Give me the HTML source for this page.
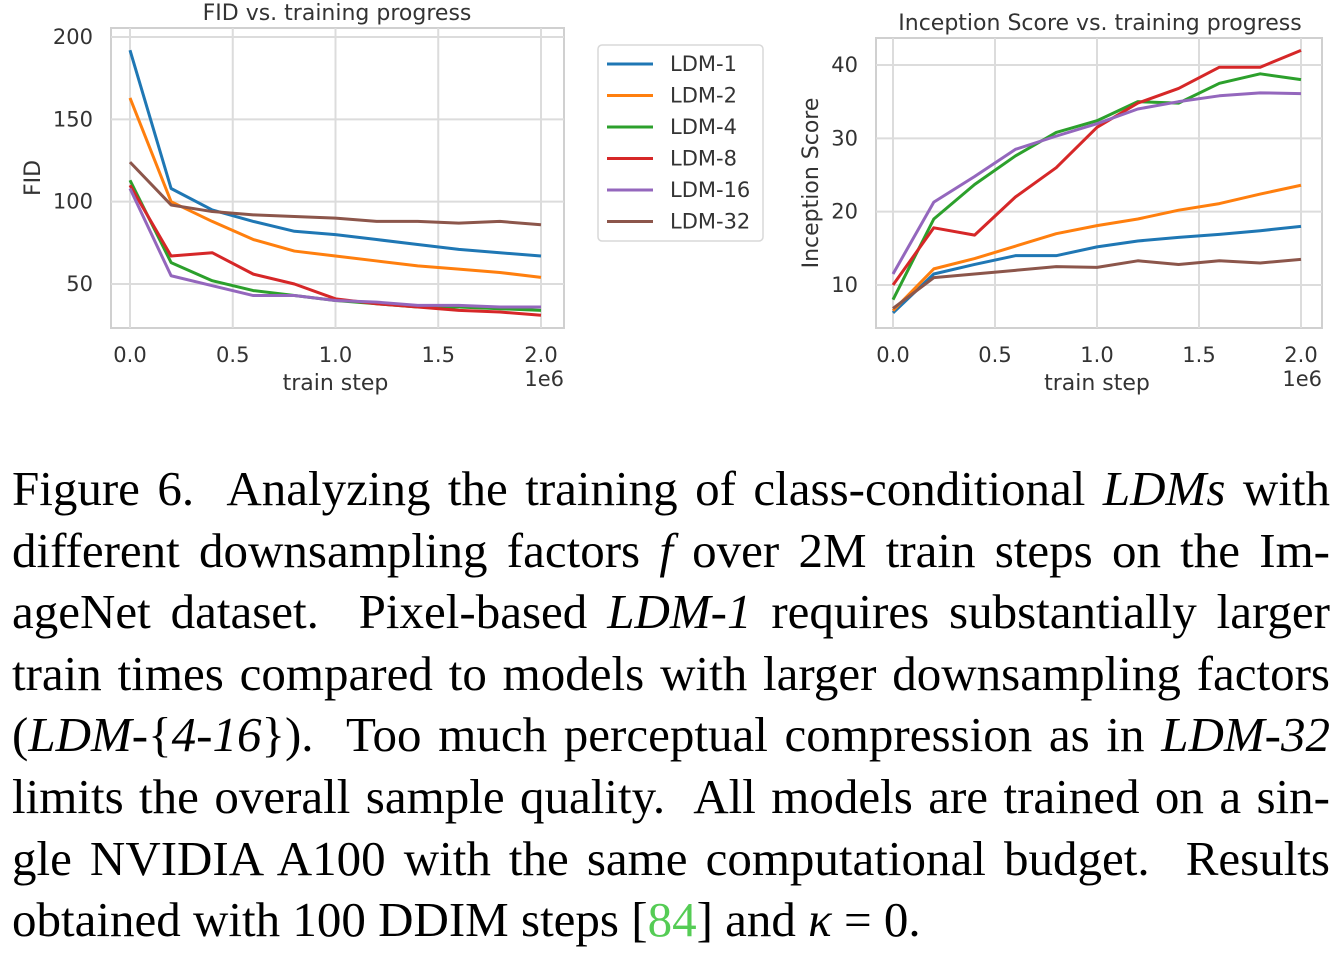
<!DOCTYPE html>
<html><head><meta charset="utf-8"><style>
body{margin:0;background:#fff;width:1338px;height:954px;overflow:hidden;position:relative}
svg text{font-family:"DejaVu Sans",sans-serif;fill:#333}
#cap{position:absolute;left:12px;top:458px;width:1318px;font-family:"Liberation Serif",serif;font-size:49px;line-height:61.6px;color:#000}
#cap div{text-align:justify;text-align-last:justify;white-space:nowrap;height:61.6px}
#cap div.last{text-align-last:left}
#cap i{font-style:italic}
</style></head><body>
<svg id="chart" width="1338" height="440" style="position:absolute;left:0;top:0"></svg>
<div id="cap">
<div>Figure 6.&nbsp; Analyzing the training of class-conditional <i>LDMs</i> with</div>
<div>different downsampling factors <i>f</i> over 2M train steps on the Im-</div>
<div>ageNet dataset.&nbsp; Pixel-based <i>LDM-1</i> requires substantially larger</div>
<div>train times compared to models with larger downsampling factors</div>
<div>(<i>LDM-</i>{<i>4-16</i>}).&nbsp; Too much perceptual compression as in <i>LDM-32</i></div>
<div>limits the overall sample quality.&nbsp; All models are trained on a sin-</div>
<div>gle NVIDIA A100 with the same computational budget.&nbsp; Results</div>
<div class="last">obtained with 100 DDIM steps [<span style="color:#5c5">84</span>] and <i>κ</i> = 0.</div>
</div>
<script>
const steps=[0,0.2,0.4,0.6,0.8,1.0,1.2,1.4,1.6,1.8,2.0];
const names=["LDM-1","LDM-2","LDM-4","LDM-8","LDM-16","LDM-32"];
const colors=["#1f77b4","#ff7f0e","#2ca02c","#d62728","#9467bd","#8c564b"];
const fid1=[192,108,95,88,82,80,77,74,71,69,67];
const fid2=[163,100,88,77,70,67,64,61,59,57,54];
const fid4=[113,63,52,46,43,40,38,36,36,35,34];
const fid8=[110,67,69,56,50,41,38,36,34,33,31];
const fid16=[108,55,49,43,43,40,39,37,37,36,36];
const fid32=[124,98,94,92,91,90,88,88,87,88,86];
const is1=[6.2,11.5,12.8,14,14,15.2,16,16.5,16.9,17.4,18];
const is2=[6.5,12.2,13.6,15.3,17,18.1,19,20.2,21.1,22.4,23.6];
const is4=[8,19,23.7,27.6,30.8,32.4,35,34.8,37.5,38.8,38];
const is8=[10,17.8,16.8,22,26,31.5,34.8,36.8,39.7,39.7,42];
const is16=[11.5,21.3,24.8,28.5,30.3,32,34,35,35.8,36.2,36.1];
const is32=[6.8,11,11.5,12,12.5,12.4,13.3,12.8,13.3,13,13.5];
const xTicks=[0,0.5,1.0,1.5,2.0];
const fidTicks=[50,100,150,200];
const isTicks=[10,20,30,40];
const svg=document.getElementById('chart');
const NS='http://www.w3.org/2000/svg';
function mk(t,a,txt){const e=document.createElementNS(NS,t);for(const k in a)e.setAttribute(k,a[k]);if(txt!==undefined)e.textContent=txt;svg.appendChild(e);return e;}
function panel(cfg){
  const {L,R,T,B,x0px,x2px,ya,yapx,yb,ybpx,series,yTicks,title,ylab,pre,titleX,ylabX}=cfg;
  const sx=v=>x0px+(x2px-x0px)*v/2;
  const sy=v=>yapx+(ybpx-yapx)*(v-ya)/(yb-ya);
  const box=mk('rect',{x:L,y:T,width:R-L,height:B-T,fill:'#fff',stroke:'#d0d0d0','stroke-width':2});
  
  xTicks.forEach(t=>{const g=mk('line',{x1:sx(t),x2:sx(t),y1:T,y2:B,stroke:'#dcdcdc','stroke-width':2});
    
    const l=mk('text',{x:sx(t),y:B+34,'text-anchor':'middle','font-size':21},t.toFixed(1));
    });
  yTicks.forEach(t=>{const g=mk('line',{x1:L,x2:R,y1:sy(t),y2:sy(t),stroke:'#dcdcdc','stroke-width':2});
    
    const l=mk('text',{x:L-18,y:sy(t)+7,'text-anchor':'end','font-size':21},String(t));
    });
  series.forEach((s,i)=>{const p=mk('polyline',{points:steps.map((x,j)=>sx(x)+','+sy(s[j])).join(' '),fill:'none',stroke:colors[i],'stroke-width':3,'stroke-linejoin':'round'});
    });
  const tt=mk('text',{x:titleX,y:T-8,'text-anchor':'middle','font-size':22},title);
  
  const xl=mk('text',{x:sx(1),y:B+62,'text-anchor':'middle','font-size':22},'train step');
  
  const ex=mk('text',{x:R,y:B+58,'text-anchor':'end','font-size':21},'1e6');
  
  const yl=mk('text',{x:ylabX,y:(T+B)/2,'text-anchor':'middle','font-size':22,transform:`rotate(-90 ${ylabX} ${(T+B)/2})`},ylab);
  
}
panel({L:111,R:564,T:28,B:328,x0px:130,x2px:541,ya:200,yapx:37,yb:50,ybpx:284,series:[fid1,fid2,fid4,fid8,fid16,fid32],yTicks:fidTicks,title:'FID vs. training progress',ylab:'FID',pre:'fid',titleX:337,ylabX:40});
panel({L:876,R:1322,T:38,B:328,x0px:893,x2px:1301,ya:40,yapx:65,yb:10,ybpx:285,series:[is1,is2,is4,is8,is16,is32],yTicks:isTicks,title:'Inception Score vs. training progress',ylab:'Inception Score',pre:'is',titleX:1100,ylabX:818});
const lb=mk('rect',{x:598,y:45,width:165,height:196,rx:4,fill:'#fff',stroke:'#d8d8d8','stroke-width':1.5});

names.forEach((n,i)=>{const y=64+i*31.5;
  const l=mk('line',{x1:607,x2:653,y1:y,y2:y,stroke:colors[i],'stroke-width':3});
  
  const t=mk('text',{x:670,y:y+7,'font-size':21},n);
  });
</script>
</body></html>
